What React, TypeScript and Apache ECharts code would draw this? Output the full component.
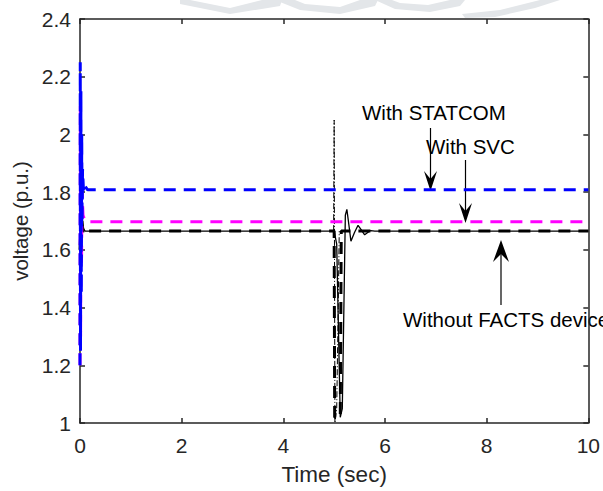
import React, { useEffect, useRef } from "react";
import * as echarts from "echarts";

const xTicks = [0, 2, 4, 6, 8, 10];
const yTicks = [1, 1.2, 1.4, 1.6, 1.8, 2, 2.2, 2.4];

// With STATCOM (blue dashed)
const statcom: [number, number][] = [
  [0, 1.2], [0.005, 2.25], [0.01, 1.25], [0.018, 2.15], [0.026, 1.45],
  [0.034, 2.0], [0.042, 1.7], [0.05, 1.88], [0.07, 1.8], [0.1, 1.82], [0.15, 1.808], [10, 1.808],
];
// With SVC (magenta dashed)
const svc: [number, number][] = [
  [0, 1.2], [0.006, 2.1], [0.012, 1.3], [0.02, 1.95], [0.03, 1.55],
  [0.04, 1.8], [0.06, 1.72], [0.09, 1.705], [0.15, 1.697], [10, 1.697],
];
// Black dashed
const blackDashed: [number, number][] = [
  [0, 1.6], [0.03, 1.72], [0.06, 1.66], [0.1, 1.67], [0.15, 1.665],
  [5.0, 1.665], [5.01, 1.02], [5.12, 1.02], [5.14, 1.665], [10, 1.665],
];
// Thin dash-dot black disturbance
const dashDot: [number, number][] = [
  [4.99, 1.665], [5.0, 2.05], [5.005, 1.7], [5.015, 1.0], [5.05, 1.05],
  [5.08, 1.4], [5.1, 1.665],
];
// Without FACTS device (solid black)
const withoutFacts: [number, number][] = [
  [0.05, 1.68], [0.1, 1.665], [5.0, 1.665], [5.05, 1.62], [5.12, 1.02],
  [5.16, 1.05], [5.22, 1.72], [5.25, 1.74], [5.28, 1.7], [5.33, 1.63],
  [5.4, 1.66], [5.47, 1.685], [5.53, 1.67], [5.6, 1.652], [5.66, 1.66],
  [5.72, 1.667], [5.8, 1.665], [10, 1.665],
];

const FONT = "'Liberation Sans', Arial, sans-serif";
const AX = "#262626";

export default function App() {
  const ref = useRef<HTMLDivElement>(null);
  useEffect(() => {
    if (!ref.current) return;
    const chart = echarts.init(ref.current, undefined, { renderer: "svg" });
    const fmt = (v: number) => String(Number(v.toFixed(1)));
    const gray = "#e3e6e9";
    const arrowStyle = { fill: "#000" };
    chart.setOption({
      animation: false,
      backgroundColor: "#fff",
      grid: { left: 80, right: 12, top: 19, bottom: 66, containLabel: false },
      xAxis: [
        {
          type: "value", min: xTicks[0], max: xTicks[xTicks.length - 1], interval: 2,
          name: "Time (sec)", nameLocation: "middle", nameGap: 40,
          nameTextStyle: { fontFamily: FONT, fontSize: 22.5, color: AX },
          axisLine: { onZero: false, lineStyle: { color: AX, width: 1.5 } },
          axisTick: { inside: true, length: 5, lineStyle: { color: AX, width: 1.5 } },
          axisLabel: { fontFamily: FONT, fontSize: 21, color: AX, margin: 12, formatter: fmt },
          splitLine: { show: false },
        },
        {
          type: "value", position: "top", min: 0, max: 10, interval: 2,
          axisLine: { onZero: false, lineStyle: { color: AX, width: 1.5 } },
          axisTick: { inside: true, length: 5, lineStyle: { color: AX, width: 1.5 } },
          axisLabel: { show: false }, splitLine: { show: false },
        },
      ],
      yAxis: [
        {
          type: "value", min: yTicks[0], max: yTicks[yTicks.length - 1], interval: 0.2,
          name: "voltage (p.u.)", nameLocation: "middle", nameGap: 44,
          nameTextStyle: { fontFamily: FONT, fontSize: 20.5, color: AX },
          axisLine: { onZero: false, lineStyle: { color: AX, width: 1.5 } },
          axisTick: { inside: true, length: 5, lineStyle: { color: AX, width: 1.5 } },
          axisLabel: { fontFamily: FONT, fontSize: 21, color: AX, margin: 9, formatter: fmt },
          splitLine: { show: false },
        },
        {
          type: "value", position: "right", min: 1, max: 2.4, interval: 0.2,
          axisLine: { onZero: false, lineStyle: { color: AX, width: 1.5 } },
          axisTick: { inside: true, length: 5, lineStyle: { color: AX, width: 1.5 } },
          axisLabel: { show: false }, splitLine: { show: false },
        },
      ],
      series: [
        {
          type: "line", data: withoutFacts, showSymbol: false, symbol: "none",
          lineStyle: { color: "#000", width: 1.3 }, z: 3,
        },
        {
          type: "line", data: dashDot, showSymbol: false, symbol: "none",
          lineStyle: { color: "#000", width: 1, type: [6, 2, 1, 2] }, z: 3,
        },
        {
          type: "line", data: blackDashed, showSymbol: false, symbol: "none",
          lineStyle: { color: "#000", width: 3, type: [12, 8] }, z: 4,
        },
        {
          type: "line", data: svc, showSymbol: false, symbol: "none",
          lineStyle: { color: "#ff00ff", width: 3, type: [12, 8] }, z: 5,
        },
        {
          type: "line", data: statcom, showSymbol: false, symbol: "none",
          lineStyle: { color: "#0000ff", width: 3, type: [12, 8] }, z: 6,
        },
      ],
      graphic: [
        // faint watermark at top
        { type: "polygon", z: -10, shape: { points: [[180, 4], [230, 14], [280, 6], [282, 0], [262, 0], [230, 8], [190, 0], [180, 0]] }, style: { fill: gray } },
        { type: "polygon", z: -10, shape: { points: [[275, 0], [300, 10], [340, 14], [375, 6], [378, 0], [360, 0], [340, 7], [305, 4], [295, 0]] }, style: { fill: gray } },
        { type: "polygon", z: -10, shape: { points: [[375, 0], [395, 9], [430, 12], [460, 6], [465, 0], [450, 0], [428, 5], [400, 3], [392, 0]] }, style: { fill: gray } },
        { type: "polygon", z: -10, shape: { points: [[462, 14], [500, 10], [540, 0], [560, 0], [535, 8], [495, 17], [465, 18]] }, style: { fill: gray } },
        // annotations
        { type: "text", left: 362, top: 102, style: { text: "With STATCOM", font: `20.5px ${FONT}`, fill: "#000" } },
        { type: "line", shape: { x1: 430.5, y1: 128, x2: 430.5, y2: 182 }, style: { stroke: "#000", lineWidth: 1.2 } },
        { type: "polygon", shape: { points: [[424, 171], [430.5, 191], [437, 171], [430.5, 179]] }, style: arrowStyle },
        { type: "text", left: 426, top: 136, style: { text: "With SVC", font: `20.5px ${FONT}`, fill: "#000" } },
        { type: "line", shape: { x1: 465.5, y1: 160, x2: 465.5, y2: 215 }, style: { stroke: "#000", lineWidth: 1.2 } },
        { type: "polygon", shape: { points: [[459, 203], [465.5, 223], [472, 203], [465.5, 211]] }, style: arrowStyle },
        { type: "text", left: 403, top: 309, style: { text: "Without FACTS device", font: `20.5px ${FONT}`, fill: "#000" } },
        { type: "line", shape: { x1: 501, y1: 250, x2: 501, y2: 305 }, style: { stroke: "#000", lineWidth: 1.2 } },
        { type: "polygon", shape: { points: [[493, 262], [501, 240], [509, 262], [501, 254]] }, style: arrowStyle },
      ],
    });
    return () => chart.dispose();
  }, []);
  return <div ref={ref} style={{ width: 603, height: 491, position: "absolute", left: 0, top: 0 }} />;
}
